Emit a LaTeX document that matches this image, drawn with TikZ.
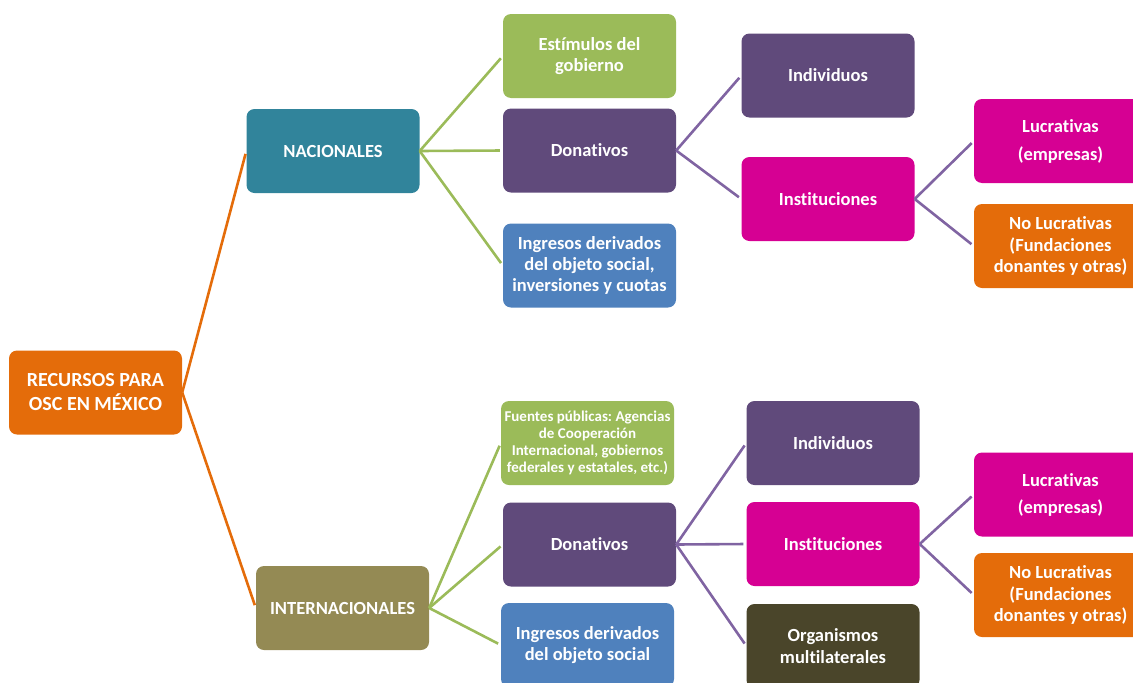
\documentclass[tikz,border=0pt]{standalone}
\usepackage{fontspec}
\setmainfont{Carlito}[Ligatures=NoCommon]
\usepackage{tikz}
\frenchspacing

\definecolor{naranja}{HTML}{E46C0A}
\definecolor{azulverde}{HTML}{31849B}
\definecolor{oliva}{HTML}{948A54}
\definecolor{verde}{HTML}{9BBB59}
\definecolor{morado}{HTML}{604A7B}
\definecolor{azul}{HTML}{4F81BD}
\definecolor{magenta}{HTML}{D60093}
\definecolor{cafe}{HTML}{4A452A}
\definecolor{lila}{HTML}{8064A2}

\tikzset{
  caja/.style={rounded corners=8pt, text=white, align=center, inner sep=0pt,
    minimum width=173pt, minimum height=84pt,
    font=\bfseries\fontsize{18.5}{21.2}\selectfont},
  lineanar/.style={naranja, line width=2.6pt, shorten >=3pt},
  lineaver/.style={verde, line width=2.6pt, shorten >=3pt},
  linealil/.style={lila, line width=2.6pt, shorten >=3pt}
}

\begin{document}
\begin{tikzpicture}[x=1pt,y=-1pt]
\useasboundingbox (0,0) rectangle (1133,683);
\clip (0,0) rectangle (1133,683);

% raiz y ramas
\node[caja, fill=naranja, font=\bfseries\fontsize{20}{24}\selectfont] (rec) at (95.5,392.5) {RECURSOS PARA\\OSC EN MÉXICO};
\node[caja, fill=azulverde] (nac) at (333,151) {NACIONALES};
\node[caja, fill=oliva] (int) at (342.5,608) {INTERNACIONALES};

% nacionales
\node[caja, fill=verde] (est) at (589.5,56) {Estímulos del\\gobierno};
\node[caja, fill=morado] (donA) at (589.5,150.5) {Donativos};
\node[caja, fill=azul] (ingA) at (589.5,265.5) {Ingresos derivados\\del objeto social,\\inversiones y cuotas};
\node[caja, fill=morado] (indA) at (828,75.5) {Individuos};
\node[caja, fill=magenta] (insA) at (828,199) {Instituciones};
\node[caja, fill=magenta, font=\bfseries\fontsize{18.5}{28}\selectfont] (lucA) at (1060.5,141) {Lucrativas\\(empresas)};
\node[caja, fill=naranja] (nolA) at (1060.5,246) {No Lucrativas\\(Fundaciones\\donantes y otras)};

% internacionales
\node[caja, fill=verde, font=\bfseries\fontsize{15}{17}\selectfont] (fue) at (587.5,443) {Fuentes públicas: Agencias\\de Cooperación\\Internacional, gobiernos\\federales y estatales, etc.)};
\node[caja, fill=morado] (donB) at (589.5,544.5) {Donativos};
\node[caja, fill=azul] (ingB) at (587.5,645) {Ingresos derivados\\del objeto social};
\node[caja, fill=morado] (indB) at (833,443) {Individuos};
\node[caja, fill=magenta] (insB) at (833,544) {Instituciones};
\node[caja, fill=cafe] (org) at (833,646) {Organismos\\multilaterales};
\node[caja, fill=magenta, font=\bfseries\fontsize{18.5}{27}\selectfont] (lucB) at (1060.5,494.5) {Lucrativas\\(empresas)};
\node[caja, fill=naranja] (nolB) at (1060.5,595) {No Lucrativas\\(Fundaciones\\donantes y otras)};

% conectores
\draw[lineanar] (rec.east) -- (nac.west);
\draw[lineanar] (rec.east) -- (int.west);
\draw[lineaver] (nac.east) -- (est.west);
\draw[lineaver] (nac.east) -- (donA.west);
\draw[lineaver] (nac.east) -- (ingA.west);
\draw[linealil] (donA.east) -- (indA.west);
\draw[linealil] (donA.east) -- (insA.west);
\draw[linealil] (insA.east) -- (lucA.west);
\draw[linealil] (insA.east) -- (nolA.west);
\draw[lineaver] (int.east) -- (fue.west);
\draw[lineaver] (int.east) -- (donB.west);
\draw[lineaver] (int.east) -- (ingB.west);
\draw[linealil] (donB.east) -- (indB.west);
\draw[linealil] (donB.east) -- (insB.west);
\draw[linealil] (donB.east) -- (org.west);
\draw[linealil] (insB.east) -- (lucB.west);
\draw[linealil] (insB.east) -- (nolB.west);
\end{tikzpicture}
\end{document}
